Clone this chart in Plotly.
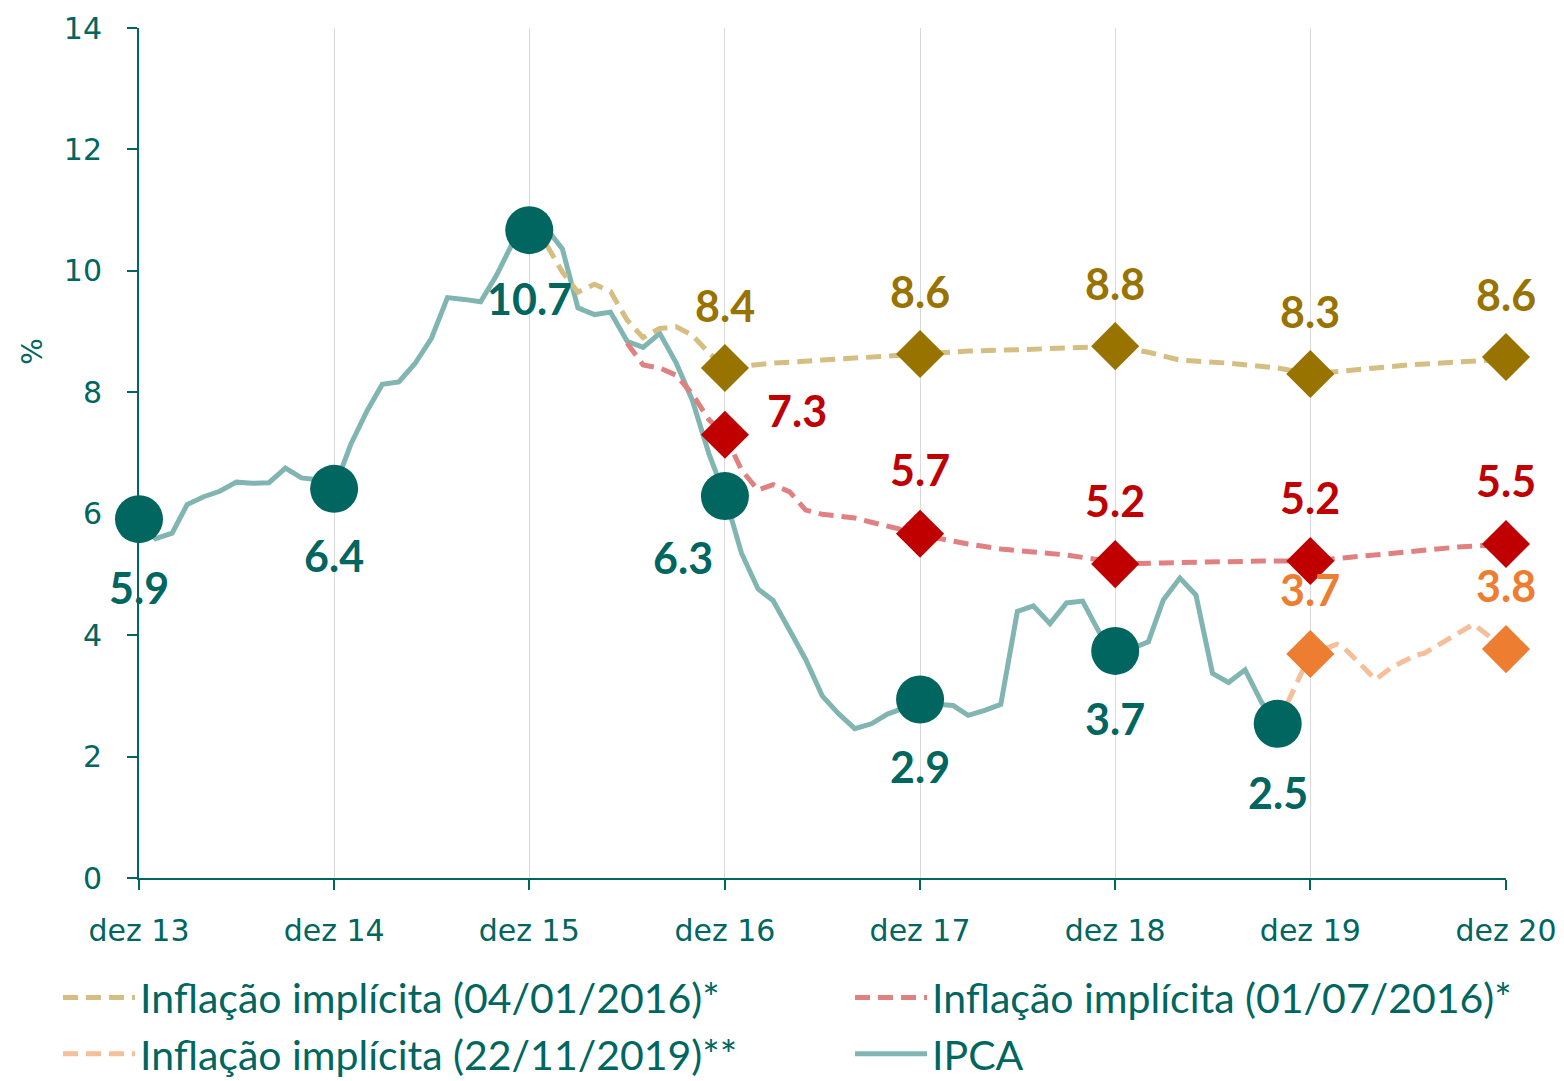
import pandas as pd
import plotly.graph_objects as go

# ---------------- data ----------------
ipca_months = pd.date_range("2013-12-01", "2019-10-01", freq="MS")
ipca_values = [
    5.91,
    5.59, 5.68, 6.15, 6.28, 6.37, 6.52, 6.50, 6.51, 6.75, 6.59, 6.56, 6.41,
    7.14, 7.70, 8.13, 8.17, 8.47, 8.89, 9.56, 9.53, 9.49, 9.93, 10.48, 10.67,
    10.71, 10.36, 9.39, 9.28, 9.32, 8.84, 8.74, 8.97, 8.48, 7.87, 6.99, 6.29,
    5.35, 4.76, 4.57, 4.08, 3.60, 3.00, 2.71, 2.46, 2.54, 2.70, 2.80, 2.94,
    2.86, 2.84, 2.68, 2.76, 2.86, 4.39, 4.48, 4.19, 4.53, 4.56, 4.05, 3.74,
    3.78, 3.89, 4.58, 4.94, 4.66, 3.37, 3.22, 3.43, 2.89, 2.54,
]

gold_dates = ["2015-12-01", "2016-01-01", "2016-02-01", "2016-03-01", "2016-04-01",
              "2016-05-01", "2016-06-01", "2016-07-01", "2016-08-01", "2016-09-01",
              "2016-10-01", "2016-11-01", "2016-12-01", "2017-03-01", "2017-06-01",
              "2017-09-01", "2017-11-01", "2017-12-01", "2018-03-01", "2018-06-01",
              "2018-09-01", "2018-11-01", "2018-12-01", "2019-02-01", "2019-04-01",
              "2019-07-01", "2019-10-01", "2019-12-01", "2020-02-01", "2020-06-01",
              "2020-11-01", "2020-12-01"]
gold_values = [10.67, 10.45, 9.98, 9.65, 9.78,
               9.66, 9.19, 8.90, 9.05, 9.08,
               8.94, 8.65, 8.40, 8.48, 8.53,
               8.58, 8.61, 8.63, 8.68, 8.70,
               8.72, 8.74, 8.76, 8.66, 8.53,
               8.48, 8.40, 8.30, 8.35, 8.45,
               8.53, 8.58]

red_dates = ["2016-06-01", "2016-07-01", "2016-08-01", "2016-09-01", "2016-10-01",
             "2016-11-01", "2016-12-01", "2017-01-01", "2017-02-01", "2017-03-01",
             "2017-04-01", "2017-05-01", "2017-06-01", "2017-07-01", "2017-08-01",
             "2017-09-01", "2017-10-01", "2017-11-01", "2017-12-01", "2018-01-01",
             "2018-03-01", "2018-05-01", "2018-07-01", "2018-09-01", "2018-11-01",
             "2018-12-01", "2019-03-01", "2019-06-01", "2019-09-01", "2019-12-01",
             "2020-03-01", "2020-06-01", "2020-09-01", "2020-12-01"]
red_values = [8.81, 8.45, 8.40, 8.28, 7.97,
              7.55, 7.30, 6.72, 6.39, 6.48,
              6.36, 6.06, 5.99, 5.96, 5.93,
              5.86, 5.79, 5.73, 5.67, 5.60,
              5.50, 5.42, 5.37, 5.32, 5.24,
              5.17, 5.19, 5.21, 5.22, 5.22,
              5.30, 5.37, 5.45, 5.50]

orange_dates = ["2019-10-01", "2019-12-01", "2020-01-20", "2020-02-01", "2020-04-01",
                "2020-05-01", "2020-06-15", "2020-07-01", "2020-10-01", "2020-12-01"]
orange_values = [2.54, 3.69, 3.85, 3.80, 3.27,
                 3.47, 3.67, 3.70, 4.18, 3.77]

ipca_marker_dates = ["2013-12-01", "2014-12-01", "2015-12-01", "2016-12-01",
                     "2017-12-01", "2018-12-01", "2019-10-01"]
gold_marker_dates = ["2016-12-01", "2017-12-01", "2018-12-01", "2019-12-01", "2020-12-01"]
red_marker_dates = ["2016-12-01", "2017-12-01", "2018-12-01", "2019-12-01", "2020-12-01"]
orange_marker_dates = ["2019-12-01", "2020-12-01"]

tick_dates = ["2013-12-01", "2014-12-01", "2015-12-01", "2016-12-01",
              "2017-12-01", "2018-12-01", "2019-12-01", "2020-12-01"]
tick_labels = ["dez 13", "dez 14", "dez 15", "dez 16", "dez 17", "dez 18", "dez 19", "dez 20"]

legend_names = ["Inflação implícita (04/01/2016)*", "Inflação implícita (01/07/2016)*",
                "Inflação implícita (22/11/2019)**", "IPCA"]
y_title = "%"

# ---------------- style ----------------
TEAL = "#00665F"
IPCA_LINE = "#80B5B2"
GOLD_LINE, GOLD_MK = "#D5BE82", "#997300"
RED_LINE, RED_MK = "#E08080", "#C00000"
ORG_LINE, ORG_MK = "#F7BF99", "#ED7D31"
DASH = "15px,8px"
TICK_FONT = "DejaVu Sans"

ipca_lookup = {d.strftime("%Y-%m-%d"): v for d, v in zip(ipca_months, ipca_values)}
gold_lookup = dict(zip(gold_dates, gold_values))
red_lookup = dict(zip(red_dates, red_values))
org_lookup = dict(zip(orange_dates, orange_values))

fig = go.Figure()

fig.add_trace(go.Scatter(x=ipca_months, y=ipca_values, mode="lines", name=legend_names[3],
                         line=dict(color=IPCA_LINE, width=5), legend="legend2", legendrank=2))
fig.add_trace(go.Scatter(x=gold_dates, y=gold_values, mode="lines", name=legend_names[0],
                         line=dict(color=GOLD_LINE, width=5, dash=DASH), legend="legend", legendrank=1))
fig.add_trace(go.Scatter(x=red_dates, y=red_values, mode="lines", name=legend_names[1],
                         line=dict(color=RED_LINE, width=5, dash=DASH), legend="legend2", legendrank=1))
fig.add_trace(go.Scatter(x=orange_dates, y=orange_values, mode="lines", name=legend_names[2],
                         line=dict(color=ORG_LINE, width=5, dash=DASH), legend="legend", legendrank=2))

def marker_trace(dates, lookup, color, symbol, size):
    return go.Scatter(x=dates, y=[lookup[d] for d in dates], mode="markers",
                      marker=dict(color=color, symbol=symbol, size=size, line=dict(width=0)),
                      showlegend=False, cliponaxis=False, hoverinfo="x+y")

fig.add_trace(marker_trace(ipca_marker_dates, ipca_lookup, TEAL, "circle", 48))
fig.add_trace(marker_trace(gold_marker_dates, gold_lookup, GOLD_MK, "diamond", 37))
fig.add_trace(marker_trace(red_marker_dates, red_lookup, RED_MK, "diamond", 37))
fig.add_trace(marker_trace(orange_marker_dates, org_lookup, ORG_MK, "diamond", 37))

LABEL_FONT = "Lato"
LABEL_SIZE = 43

def add_labels(dates, lookup, color, shifts):
    for d, (xs, ys) in zip(dates, shifts):
        v = lookup[d]
        fig.add_annotation(x=d, y=v, text=f"<b>{v:.1f}</b>", showarrow=False,
                           xshift=xs, yshift=ys,
                           font=dict(family=LABEL_FONT, size=LABEL_SIZE, color=color))

add_labels(ipca_marker_dates, ipca_lookup, TEAL,
           [(0, -68), (0, -67), (0, -68), (-42, -61), (0, -67), (0, -68), (0, -69)])
add_labels(gold_marker_dates, gold_lookup, GOLD_MK, [(0, 63)] * 5)
add_labels(red_marker_dates, red_lookup, RED_MK, [(72, 24), (0, 64), (0, 64), (0, 64), (0, 64)])
add_labels(orange_marker_dates, org_lookup, ORG_MK, [(0, 64), (0, 64)])

# y-axis title placed as an annotation (sits above the axis middle in the reference)
fig.add_annotation(xref="paper", yref="paper", x=0, y=0.619, xshift=-106,
                   xanchor="center", yanchor="middle",
                   text=y_title, textangle=-90, showarrow=False,
                   font=dict(family=TICK_FONT, size=28, color=TEAL))

legend_common = dict(orientation="v", xref="container", yref="container",
                     xanchor="left", yanchor="top",
                     font=dict(family="Lato", size=41, color=TEAL),
                     itemwidth=72, tracegroupgap=0, bgcolor="rgba(0,0,0,0)")

fig.update_layout(
    width=1564, height=1081,
    margin=dict(l=139, r=58, t=28, b=203, autoexpand=False),
    plot_bgcolor="white", paper_bgcolor="white",
    font=dict(family=TICK_FONT, color=TEAL),
    showlegend=True,
    legend=dict(x=0.0371, y=0.108, **legend_common),
    legend2=dict(x=0.5435, y=0.108, **legend_common),
)
fig.update_xaxes(type="date", range=["2013-12-01", "2020-12-01"],
                 tickvals=tick_dates, ticktext=tick_labels,
                 ticks="outside", ticklen=10, tickwidth=2, tickcolor=TEAL,
                 showline=True, linecolor=TEAL, linewidth=2,
                 showgrid=True, gridcolor="#D9D9D9", gridwidth=1,
                 tickfont=dict(family=TICK_FONT, size=30, color=TEAL),
                 ticklabelstandoff=15, zeroline=False, automargin=False)
fig.update_yaxes(range=[0, 14], dtick=2, tick0=0,
                 ticks="outside", ticklen=10, tickwidth=2, tickcolor=TEAL,
                 showline=True, linecolor=TEAL, linewidth=2,
                 showgrid=False, zeroline=False, automargin=False,
                 tickfont=dict(family=TICK_FONT, size=30, color=TEAL),
                 ticklabelstandoff=19)

fig.write_html("out.html", config={"displayModeBar": False},
               post_script="document.body.style.margin='0';document.body.style.padding='0';")
